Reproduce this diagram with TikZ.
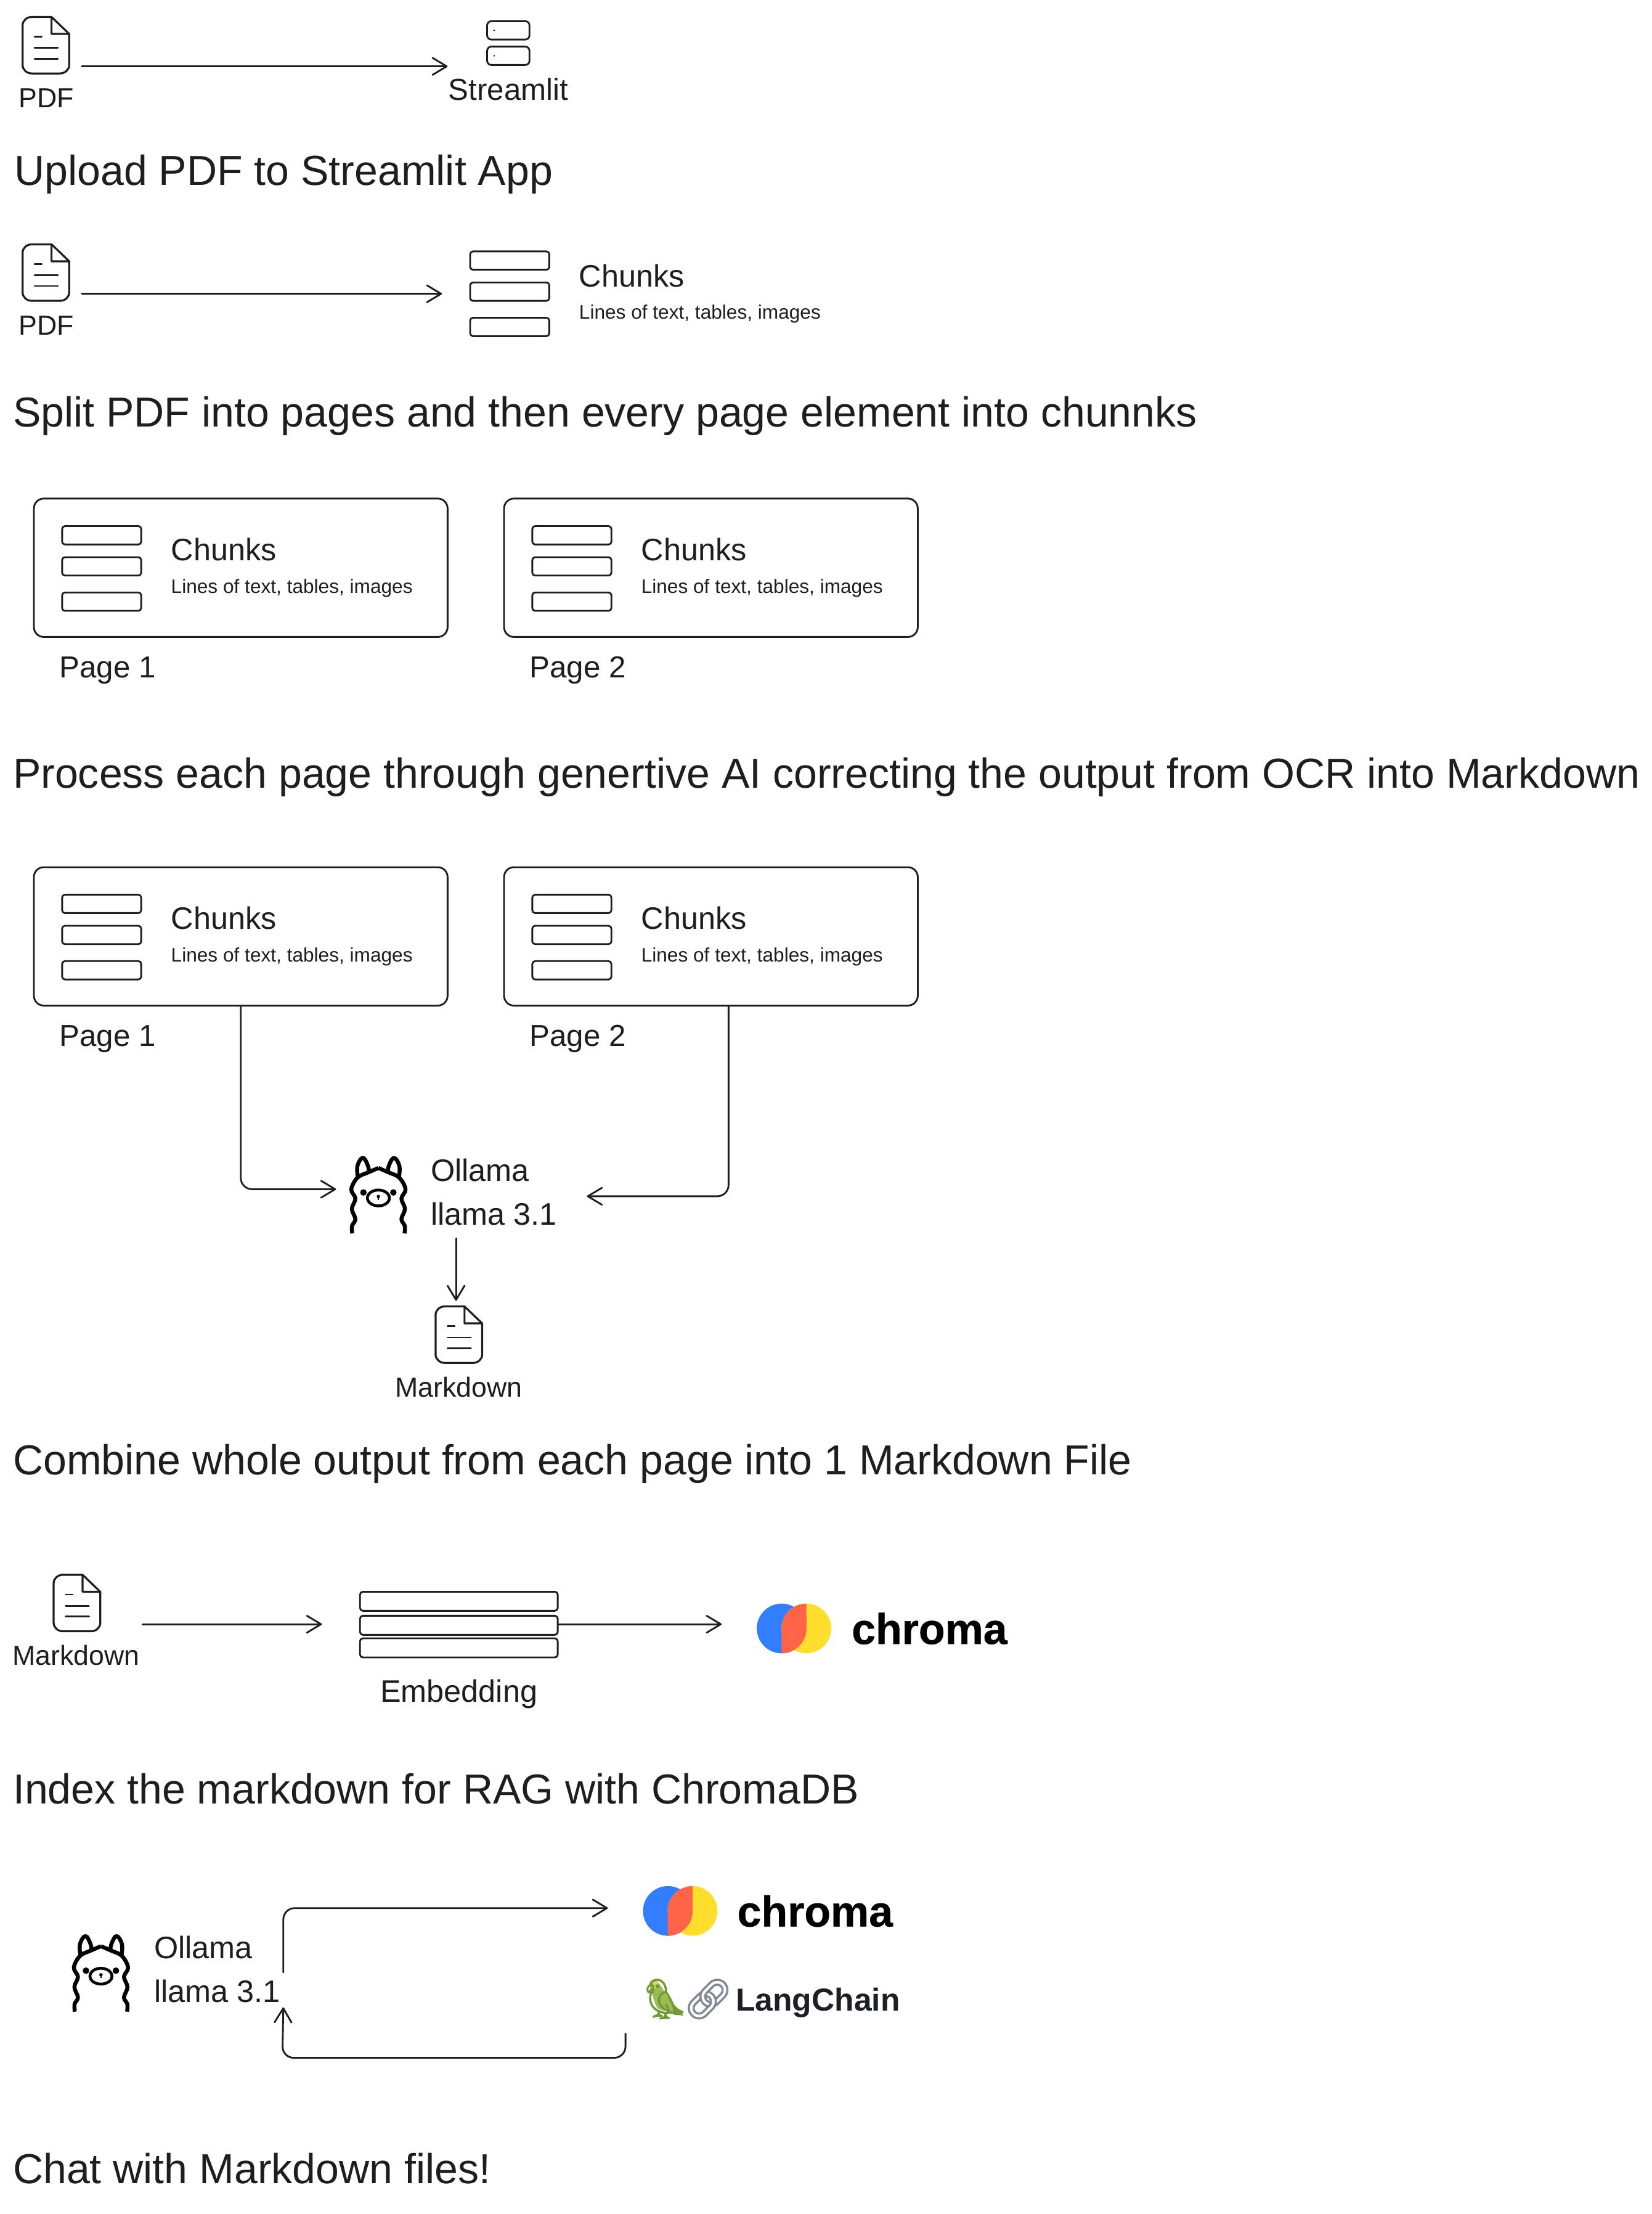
\documentclass[tikz,border=0pt]{standalone}
\usepackage{fontspec}
\setmainfont{Liberation Sans}
\newfontfamily\emojifont[FakeBold=1.5]{Noto Emoji}
\newfontfamily\chromafont[UprightFont=* Bold, FakeBold=.6]{Liberation Sans}
\usetikzlibrary{arrows.meta}
\definecolor{ink}{HTML}{1E1E1E}
\definecolor{chromablue}{HTML}{327EFF}
\definecolor{chromared}{HTML}{FF6446}
\definecolor{chromayellow}{HTML}{FFDE2D}
\definecolor{parrotgreen}{HTML}{6F9A35}
\definecolor{parrotfill}{HTML}{9DBB55}
\definecolor{parrothead}{HTML}{E6D35F}
\definecolor{chainsteel}{HTML}{7F8A96}
\definecolor{langink}{HTML}{1C1F26}
\tikzset{
	inkline/.style={draw=ink, line width=1.25pt, line join=round, line cap=round},
	link/.style={inkline, -{Straight Barb[length=10pt,width=12pt,round]}},
	elbow/.style={link, rounded corners=8pt},
	spot/.style={inner sep=0pt, outer sep=0pt, minimum width=#1},
	pagebox/.style={inkline, rounded corners=7pt, inner sep=0pt, minimum width=293pt, minimum height=98pt},
	titletext/.style={anchor=base west, inner sep=0pt, text=ink, font=\fontsize{29.7}{36}\selectfont},
	midtext/.style={inner sep=0pt, text=ink, font=\fontsize{22}{31}\selectfont},
	pagetext/.style={inner sep=0pt, text=ink, font=\fontsize{21.5}{31}\selectfont},
	smalltext/.style={inner sep=0pt, text=ink, anchor=base, font=\fontsize{19.5}{24}\selectfont},
	subtext/.style={anchor=base west, inner sep=0pt, text=ink, font=\fontsize{13.8}{18}\selectfont},
	chromatext/.style={anchor=base west, inner sep=0pt, font=\chromafont\fontsize{30.5}{36}\selectfont},
	docicon/.pic={
		\draw[inkline, line width=1.4pt] (4,-20) -- (-10,-20) to[out=180,in=90] (-16.5,-14) -- (-16.5,14)
			to[out=-90,in=180] (-10,20) -- (10,20) to[out=0,in=-90] (16.5,14) -- (16.5,-8) -- (4,-20) -- (4,-8) -- (16.5,-8);
		\draw[inkline] (-8,-6) -- (-3,-6) (-8,2) -- (8.5,2) (-8,9.5) -- (8.5,9.5);
	},
	slatstack/.pic={
		\foreach \y in {-30,-8,17}
			\draw[inkline, rounded corners=2pt] (-28,\y) rectangle (28,\y+13);
	},
	chromalogo/.pic={
		\fill[chromablue] (0,0) circle[radius=17.6];
		\fill[chromayellow] (17.5,0) circle[radius=17.6];
		\fill[chromared] (17.5,-17.6) .. controls (7.8,-17.6) and (-0.1,-9.7) .. (-0.1,0)
			-- (0,17.6) .. controls (9.7,17.6) and (17.6,9.7) .. (17.6,0) -- cycle;
	},
	llamaicon/.pic={
		\foreach \s in {1,-1}{
			\begin{scope}[xscale=\s]
				\draw[draw=black, line width=2.8pt, line join=round]
					plot[smooth, tension=.6] coordinates {(-18.5,27.3) (-18.7,22) (-16.3,17.2) (-18.8,9.9) (-16.3,2.6) (-19.2,-3.9) (-14.8,-12.2) (-7,-16) (0,-19)};
				\draw[draw=black, line width=2.8pt, line join=round]
					plot[smooth, tension=.7] coordinates {(-14.6,-13) (-14.8,-20.7) (-10.9,-26.2) (-7.2,-20) (-7,-15.5)};
				\fill[black] (-10.6,-1.7) circle[radius=2.3];
			\end{scope}
		}
		\draw[draw=black, line width=2pt] (0,2.2) ellipse[x radius=7.8, y radius=5.6];
		\fill[black] (0,1.2) circle[radius=1.2];
		\draw[draw=black, line width=.8pt] (0,1.2) -- (0,3.5);
	},
}
\begin{document}
\begin{tikzpicture}[x=1pt, y=-1pt]
	\useasboundingbox (0,0) rectangle (1170,1567.6);

	\node[spot=33pt, minimum height=40pt] (pdfa) at (32.5,32) {};
	\pic at (pdfa) {docicon};
	\node[smalltext] (pdfalabel) at (33,76) {PDF};
	\node[spot=30pt, minimum height=31pt] (streamlit) at (360,30.5) {};
	\foreach \y in {15,33}{
		\draw[inkline, rounded corners=3pt] (345,\y) rectangle (375,\y+13);
		\fill[ink] (350,\y+6.5) circle[radius=.6];
	}
	\node[pagetext, anchor=base] (streamlitlabel) at (360,71) {Streamlit};
	\draw[link] ([shift={(9,15)}]pdfa.east) -- ([shift={(-28,16.5)}]streamlit.west);
	\node[titletext] (uploadtitle) at (10,131) {Upload PDF to Streamlit App};

	\node[spot=33pt, minimum height=40pt] (pdfb) at (32.5,193) {};
	\pic at (pdfb) {docicon};
	\node[smalltext] (pdfblabel) at (33,237) {PDF};
	\node[spot=56pt, minimum height=60pt] (chunksa) at (361,208) {};
	\pic at (chunksa) {slatstack};
	\node[midtext, anchor=base west] (chunksalabel) at (410,203) {Chunks};
	\node[subtext] (chunksasub) at (410,226) {Lines of text, tables, images};
	\draw[link] ([shift={(9,15)}]pdfb.east) -- ([xshift=-20]chunksa.west);
	\node[titletext] (splittitle) at (9,302) {Split PDF into pages and then every page element into chunnks};

	\foreach \n/\px/\pn/\cy in {a/24/1/402, b/357/2/402, c/24/1/663, d/357/2/663}{
		\node[pagebox] (page\n) at (\px+146.5,\cy) {};
		\pic at (\px+48,\cy+.5) {slatstack};
		\node[midtext, anchor=base west] (chunks\n text) at (\px+97,\cy-5) {Chunks};
		\node[subtext] (chunks\n sub) at (\px+97,\cy+18) {Lines of text, tables, images};
		\node[pagetext, anchor=base west] (page\n label) at (\px+18,\cy+78) {Page \pn};
	}
	\node[titletext] (processtitle) at (9,558) {Process each page through genertive AI correcting the output from OCR into Markdown};

	\node[spot=42pt, minimum height=54pt] (llamaa) at (268,846) {};
	\pic at (llamaa) {llamaicon};
	\node[midtext, anchor=west, align=left] (ollamaa) at (305,844) {Ollama\\llama 3.1};
	\node[spot=33pt, minimum height=40pt] (mda) at (325,945) {};
	\pic at (mda) {docicon};
	\node[smalltext] (mdalabel) at (325,989) {Markdown};
	\draw[elbow] (pagec.south) |- ([shift={(-9,-4)}]llamaa.west);
	\draw[elbow] ([xshift=12.5]paged.south) |- ([shift={(21,3)}]ollamaa.east);
	\draw[link] ([xshift=-2,yshift=-9]mda.north |- ollamaa.south) -- ([xshift=-2,yshift=4]mda.north);
	\node[titletext] (combinetitle) at (9,1044) {Combine whole output from each page into 1 Markdown File};

	\node[spot=33pt, minimum height=40pt] (mdb) at (54.5,1135) {};
	\pic at (mdb) {docicon};
	\node[smalltext] (mdblabel) at (54,1179) {Markdown};
	\node[spot=140pt, minimum height=46pt] (embedding) at (325,1150) {};
	\foreach \y in {1127,1144,1160}
		\draw[inkline, rounded corners=2pt] (255,\y) rectangle (395,\y+13.5);
	\node[midtext, anchor=base] (embeddinglabel) at (325,1205) {Embedding};
	\node[spot=35pt, minimum height=35pt] (chromaa) at (553.6,1153) {};
	\pic at (chromaa) {chromalogo};
	\node[chromatext] (chromaatext) at (603,1164) {chroma};
	\draw[link] ([shift={(30,15)}]mdb.east) -- ([xshift=-27]embedding.west);
	\draw[link] ([xshift=1]embedding.east) -- ([shift={(-25,-3)}]chromaa.west);
	\node[titletext] (indextitle) at (9,1277) {Index the markdown for RAG with ChromaDB};

	\node[spot=42pt, minimum height=54pt] (llamab) at (71.5,1397) {};
	\pic at (llamab) {llamaicon};
	\node[midtext, anchor=west, align=left] (ollamab) at (109,1394.5) {Ollama\\llama 3.1};
	\node[spot=35pt, minimum height=35pt] (chromab) at (473,1353) {};
	\pic at (chromab) {chromalogo};
	\node[chromatext] (chromabtext) at (522,1364) {chroma};
	\fill[parrotfill] plot[smooth cycle, tension=.6] coordinates {(460,1404) (464,1402) (468,1406) (473,1414) (484,1427) (474,1424) (466,1422) (462,1412)};
	\fill[parrothead] (463.5,1405) circle[radius=3];
	\node[anchor=base west, inner sep=0pt, font=\emojifont\fontsize{28}{30}\selectfont] (langchain) at (453,1425) {\textcolor{parrotgreen}{🦜}\kern-5pt\textcolor{chainsteel}{🔗}};
	\node[anchor=base west, inner sep=0pt, text=langink, font=\fontsize{22.5}{27}\bfseries\selectfont] (langchaintext) at (521,1424) {LangChain};
	\coordinate (loopturn) at (200,1457);
	\draw[elbow] ([shift={(2,2)}]ollamab.east) |- ([shift={(-25,-2)}]chromab.west);
	\draw[elbow] ([shift={(-10,10)}]langchain.south west) |- (loopturn) -- ([shift={(2,3)}]ollamab.south east);
	\node[titletext] (chattitle) at (9,1546) {Chat with Markdown files!};
\end{tikzpicture}
\end{document}
